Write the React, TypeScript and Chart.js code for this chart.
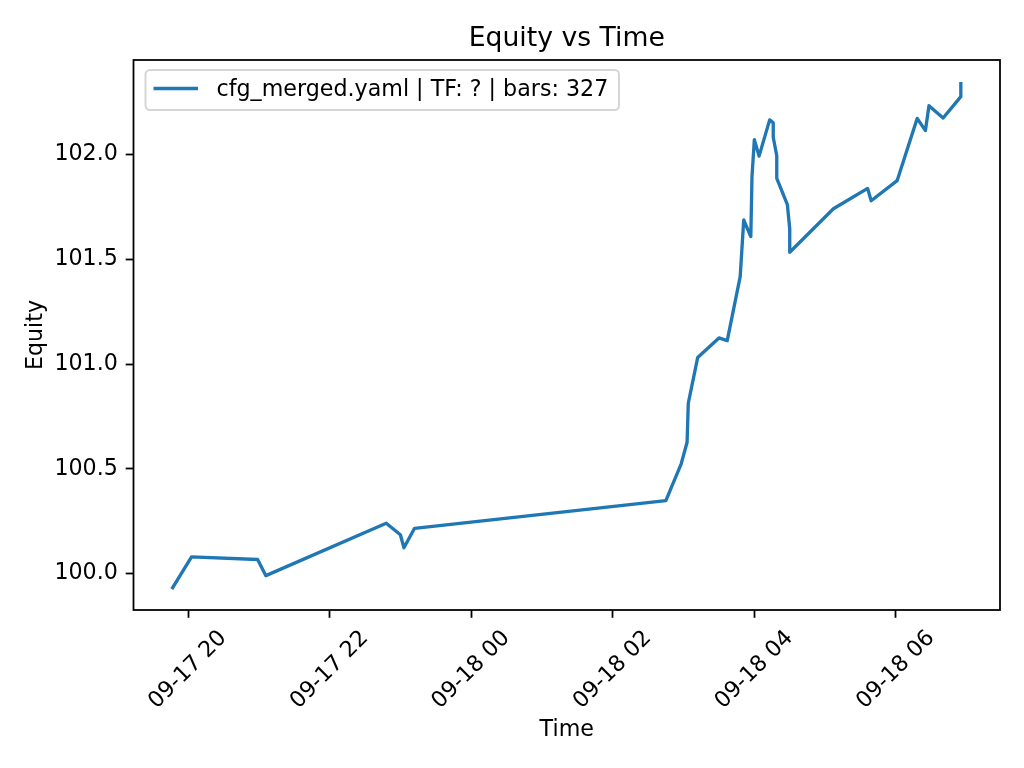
import React, { useEffect, useRef } from "react";
import { Chart, registerables } from "chart.js";

Chart.register(...registerables);

const times = [
  "09-17 19:47", "09-17 20:03", "09-17 20:59", "09-17 21:06", "09-17 22:48",
  "09-17 23:00", "09-17 23:03", "09-17 23:12", "09-18 02:45", "09-18 02:58",
  "09-18 03:03", "09-18 03:04", "09-18 03:12", "09-18 03:30", "09-18 03:37",
  "09-18 03:48", "09-18 03:51", "09-18 03:57", "09-18 03:58", "09-18 04:00",
  "09-18 04:04", "09-18 04:13", "09-18 04:16", "09-18 04:16", "09-18 04:19",
  "09-18 04:19", "09-18 04:28", "09-18 04:30", "09-18 04:30", "09-18 05:07",
  "09-18 05:36", "09-18 05:39", "09-18 06:01", "09-18 06:18", "09-18 06:25",
  "09-18 06:28", "09-18 06:40", "09-18 06:55", "09-18 06:55",
];

const equity = [
  99.933, 100.08, 100.067, 99.99, 100.24,
  100.185, 100.123, 100.216, 100.348, 100.524,
  100.627, 100.813, 101.032, 101.125, 101.112,
  101.418, 101.688, 101.609, 101.895, 102.072,
  101.993, 102.166, 102.152, 102.083, 101.995,
  101.887, 101.761, 101.645, 101.534, 101.742,
  101.839, 101.78, 101.876, 102.173, 102.115,
  102.234, 102.175, 102.277, 102.339,
];

const xTickHours = [20, 22, 24, 26, 28, 30];
const yTickValues = [100.0, 100.5, 101.0, 101.5, 102.0];

const titleText = "Equity vs Time";
const xLabelText = "Time";
const yLabelText = "Equity";
const legendText = "cfg_merged.yaml | TF: ? | bars: 327";

const X_MIN = 19.23;
const X_MAX = 31.47;
const Y_MIN = 99.826;
const Y_MAX = 102.452;

const FONT = "'DejaVu Sans', sans-serif";
const LINE_COLOR = "#1f77b4";

function parseHours(s: string): number {
  const day = parseInt(s.slice(3, 5), 10);
  const hh = parseInt(s.slice(6, 8), 10);
  const mm = parseInt(s.slice(9, 11), 10);
  return (day - 17) * 24 + hh + mm / 60;
}

function formatTick(h: number): string {
  const day = 17 + Math.floor(h / 24);
  const hh = h % 24;
  return "09-" + String(day) + " " + String(hh).padStart(2, "0");
}

const decorPlugin = {
  id: "decor",
  afterDraw(chart: any) {
    const ctx = chart.ctx as CanvasRenderingContext2D;
    const area = chart.chartArea;
    const xs = chart.scales.x;
    ctx.save();
    // frame
    ctx.strokeStyle = "#000";
    ctx.lineWidth = 1.78;
    ctx.strokeRect(area.left, area.top, area.right - area.left, area.bottom - area.top);

    // title
    ctx.fillStyle = "#000";
    ctx.font = `26.67px ${FONT}`;
    ctx.textAlign = "center";
    ctx.textBaseline = "alphabetic";
    ctx.fillText(titleText, (area.left + area.right) / 2, 46);

    // x tick labels (rotated 45, centered)
    ctx.font = `22.2px ${FONT}`;
    ctx.textAlign = "center";
    ctx.textBaseline = "middle";
    for (const h of xTickHours) {
      const px = xs.getPixelForValue(h);
      ctx.save();
      ctx.translate(px, 670);
      ctx.rotate(-Math.PI / 4);
      ctx.fillText(formatTick(h), 0, 0);
      ctx.restore();
    }

    // x axis label
    ctx.textBaseline = "alphabetic";
    ctx.fillText(xLabelText, (area.left + area.right) / 2, 736);

    // y axis label
    ctx.save();
    ctx.translate(36, (area.top + area.bottom) / 2);
    ctx.rotate(-Math.PI / 2);
    ctx.textBaseline = "middle";
    ctx.textAlign = "center";
    ctx.fillText(yLabelText, 0, 0);
    ctx.restore();

    // legend
    const bx = 145.5, by = 70, bw = 473.5, bh = 40, r = 4.4;
    ctx.beginPath();
    ctx.moveTo(bx + r, by);
    ctx.lineTo(bx + bw - r, by);
    ctx.arcTo(bx + bw, by, bx + bw, by + r, r);
    ctx.lineTo(bx + bw, by + bh - r);
    ctx.arcTo(bx + bw, by + bh, bx + bw - r, by + bh, r);
    ctx.lineTo(bx + r, by + bh);
    ctx.arcTo(bx, by + bh, bx, by + bh - r, r);
    ctx.lineTo(bx, by + r);
    ctx.arcTo(bx, by, bx + r, by, r);
    ctx.closePath();
    ctx.fillStyle = "rgba(255,255,255,0.8)";
    ctx.fill();
    ctx.strokeStyle = "rgba(204,204,204,0.8)";
    ctx.lineWidth = 2;
    ctx.stroke();

    ctx.strokeStyle = LINE_COLOR;
    ctx.lineWidth = 3.33;
    ctx.lineCap = "butt";
    ctx.beginPath();
    ctx.moveTo(153.5, 88.5);
    ctx.lineTo(198, 88.5);
    ctx.stroke();

    ctx.fillStyle = "#000";
    ctx.font = `22.2px ${FONT}`;
    ctx.textAlign = "left";
    ctx.textBaseline = "alphabetic";
    ctx.fillText(legendText, 216.5, 96);

    ctx.restore();
  },
};

export default function App() {
  const canvasRef = useRef<HTMLCanvasElement | null>(null);

  useEffect(() => {
    if (!canvasRef.current) return;
    const data = times.map((t, i) => ({ x: parseHours(t), y: equity[i] }));
    const chart = new Chart(canvasRef.current, {
      type: "line",
      data: {
        datasets: [
          {
            label: legendText,
            data,
            borderColor: LINE_COLOR,
            backgroundColor: LINE_COLOR,
            borderWidth: 3.33,
            pointRadius: 0,
            tension: 0,
            fill: false,
            borderJoinStyle: "round",
            borderCapStyle: "square",
          },
        ],
      },
      options: {
        responsive: false,
        animation: false,
        devicePixelRatio: 1,
        layout: { padding: { left: 0, right: 24, top: 60, bottom: 0 } },
        plugins: {
          legend: { display: false },
          title: { display: false },
          tooltip: { enabled: false },
        },
        scales: {
          x: {
            type: "linear",
            min: X_MIN,
            max: X_MAX,
            afterBuildTicks: (scale: any) => {
              scale.ticks = xTickHours.map((v) => ({ value: v }));
            },
            afterFit: (scale: any) => {
              scale.height = 158;
            },
            ticks: { display: false },
            grid: {
              drawOnChartArea: false,
              drawTicks: true,
              tickLength: 7.8,
              tickWidth: 1.78,
              tickColor: "#000",
              color: "#000",
            },
            border: { display: false },
          },
          y: {
            type: "linear",
            min: Y_MIN,
            max: Y_MAX,
            afterBuildTicks: (scale: any) => {
              scale.ticks = yTickValues.map((v) => ({ value: v }));
            },
            afterFit: (scale: any) => {
              scale.width = 133.5;
            },
            ticks: {
              color: "#000",
              padding: 7.8,
              font: { family: FONT, size: 22.2 },
              callback: (v: any) => Number(v).toFixed(1),
            },
            grid: {
              drawOnChartArea: false,
              drawTicks: true,
              tickLength: 7.8,
              tickWidth: 1.78,
              tickColor: "#000",
              color: "#000",
            },
            border: { display: false },
          },
        },
      },
      plugins: [decorPlugin],
    });
    return () => chart.destroy();
  }, []);

  return (
    <div style={{ position: "absolute", left: 0, top: 0, width: 1024, height: 768, background: "#fff" }}>
      <canvas ref={canvasRef} width={1024} height={768} style={{ display: "block" }} />
    </div>
  );
}
